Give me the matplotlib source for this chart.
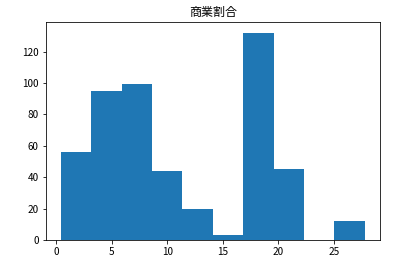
import numpy as np
import matplotlib
matplotlib.use('Agg')
import matplotlib.pyplot as plt

plt.rcParams['font.family'] = ['Noto Sans CJK JP', 'DejaVu Sans']
plt.rcParams['font.size'] = 10

# bin edges and counts
edges = [0.4, 3.14, 5.88, 8.62, 11.36, 14.1, 16.84, 19.58, 22.32, 25.06, 27.8]
counts = [56, 95, 99, 44, 20, 3, 132, 45, 0, 12]
title = '商業割合'

edges = np.array(edges)
fig = plt.figure(figsize=(419/72, 264/72), dpi=72)
ax = fig.add_axes([0.109, 0.091, 0.798, 0.8245])
ax.hist(edges[:-1], bins=edges, weights=counts, color='#1f77b4')
ax.set_title(title)
ax.set_yticks([0, 20, 40, 60, 80, 100, 120])
ax.set_xticks([0, 5, 10, 15, 20, 25])
fig.savefig('out.png', dpi=72)
